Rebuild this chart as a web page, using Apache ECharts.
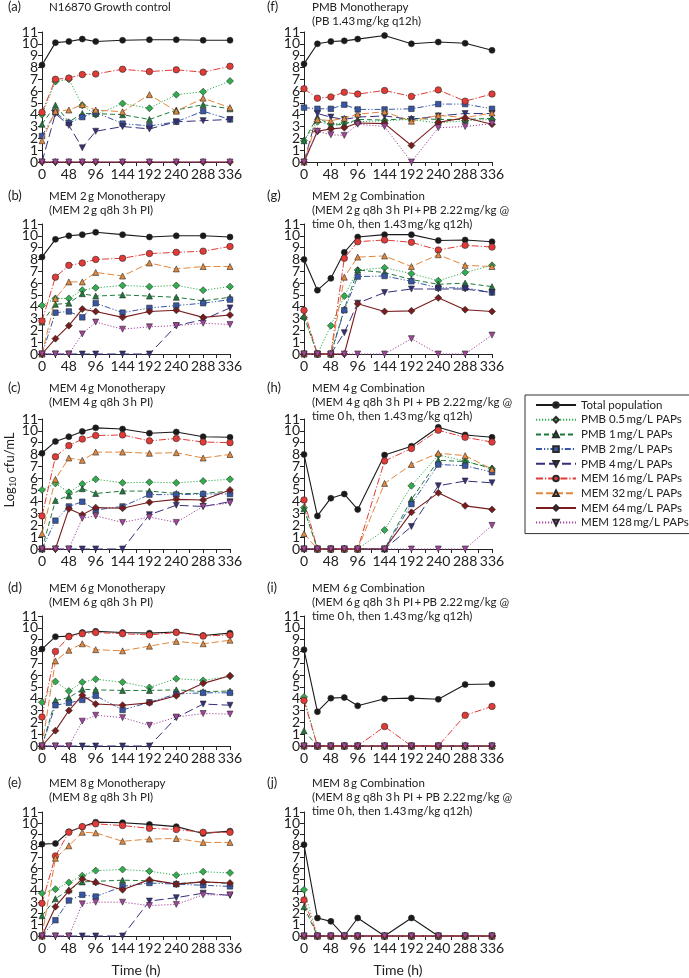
<!DOCTYPE html>
<html>
<head>
<meta charset="utf-8">
<script src="https://cdn.jsdelivr.net/npm/echarts@6/dist/echarts.min.js"></script>
<style>
html,body{margin:0;padding:0;background:#fff;}
#chart{width:689px;height:978px;}
</style>
</head>
<body>
<div id="chart"></div>
<script>
// ---- data ----
const times = [0, 24, 48, 72, 96, 144, 192, 240, 288, 336];
const seriesNames = ['Total population', 'PMB 0.5\u2009mg/L PAPs', 'PMB 1\u2009mg/L PAPs', 'PMB 2\u2009mg/L PAPs', 'PMB 4\u2009mg/L PAPs',
  'MEM 16\u2009mg/L PAPs', 'MEM 32\u2009mg/L PAPs', 'MEM 64\u2009mg/L PAPs', 'MEM 128\u2009mg/L PAPs'];
const Z = [0, 0, 0, 0, 0, 0, 0, 0, 0, 0];

// rows follow seriesNames order
const panelA = [
  [8.2, 10.1, 10.2, 10.4, 10.2, 10.3, 10.35, 10.35, 10.3, 10.3],
  [4.0, 6.8, 7.0, 4.8, 4.0, 4.95, 4.55, 5.7, 5.95, 6.85],
  [3.2, 4.8, 3.4, 4.1, 4.1, 4.0, 3.6, 4.4, 4.85, 4.5],
  [2.2, 4.2, 3.3, 3.8, 4.2, 3.25, 3.05, 3.4, 4.3, 3.6],
  [0, 4.1, 3.1, 1.2, 2.6, 3.0, 2.8, 3.4, 3.5, 3.6],
  [4.2, 7.0, 7.1, 7.4, 7.45, 7.85, 7.65, 7.8, 7.6, 8.1],
  [1.8, 4.3, 4.4, 4.85, 4.4, 4.25, 5.7, 4.3, 5.4, 4.6],
  Z, Z
];
const panelF = [
  [8.3, 10.0, 10.2, 10.25, 10.4, 10.7, 10.0, 10.15, 10.05, 9.45],
  [1.8, 3.4, 3.2, 3.3, 3.4, 3.5, 3.6, 3.3, 3.5, 3.6],
  [1.8, 3.8, 3.1, 3.2, 3.6, 3.55, 3.7, 3.6, 3.6, 3.7],
  [4.6, 4.5, 4.5, 4.85, 4.45, 4.45, 4.5, 4.9, 4.9, 4.5],
  [0, 4.1, 3.8, 3.6, 3.8, 3.9, 3.6, 3.9, 4.1, 4.1],
  [6.2, 5.4, 5.5, 5.9, 5.75, 6.05, 5.55, 6.1, 5.15, 5.75],
  [0, 3.6, 3.5, 3.7, 4.05, 4.25, 3.45, 3.95, 3.75, 4.15],
  [0, 2.6, 2.8, 2.9, 3.3, 3.25, 1.4, 3.35, 3.75, 3.2],
  [0, 2.6, 2.3, 2.25, 3.2, 3.0, 0, 2.9, 3.0, 3.25]
];
const panelB = [
  [8.2, 9.7, 10.0, 10.1, 10.3, 10.1, 9.9, 10.0, 10.0, 9.9],
  [4.1, 4.7, 4.7, 5.4, 5.6, 5.8, 5.7, 5.8, 5.4, 5.7],
  [2.7, 4.2, 4.3, 5.1, 4.9, 5.0, 4.9, 4.8, 4.5, 4.8],
  [0, 3.5, 3.6, 3.1, 4.3, 3.5, 3.9, 4.1, 4.3, 4.6],
  [0, 0, 0, 0, 0, 0, 0, 2.4, 2.9, 3.9],
  [2.8, 6.5, 7.5, 7.7, 8.0, 8.1, 8.5, 8.6, 8.7, 9.1],
  [0, 4.7, 6.1, 6.1, 6.9, 6.6, 7.7, 7.2, 7.4, 7.4],
  [0, 1.3, 2.4, 3.8, 3.6, 3.1, 3.6, 3.7, 3.1, 3.3],
  [0, 0, 0, 1.7, 2.7, 2.1, 2.3, 2.4, 2.6, 2.5]
];
const panelG = [
  [8.0, 5.4, 6.4, 8.6, 9.9, 10.1, 10.1, 9.6, 9.65, 9.5],
  [3.1, 0, 2.4, 4.9, 7.1, 7.3, 6.8, 6.2, 6.9, 7.5],
  [3.2, 0, 0, 3.8, 7.1, 6.9, 6.3, 5.9, 6.0, 5.7],
  [0, 0, 0, 3.7, 6.55, 6.6, 6.15, 5.6, 5.6, 5.2],
  [0, 0, 0, 1.8, 4.3, 5.2, 5.5, 5.5, 5.5, 5.2],
  [3.7, 0, 0, 8.1, 9.5, 9.65, 9.45, 8.8, 9.2, 9.05],
  [0, 0, 0, 6.5, 8.2, 8.3, 7.4, 8.4, 7.5, 7.4],
  [0, 0, 0, 0, 4.25, 3.6, 3.65, 4.75, 3.75, 3.6],
  [0, 0, 0, 0, 0, 0, 1.3, 0, 0, 1.6]
];
const panelC = [
  [8.1, 9.1, 9.5, 9.95, 10.25, 10.15, 9.8, 9.9, 9.5, 9.45],
  [5.0, 5.55, 4.8, 5.5, 5.9, 5.6, 5.65, 5.6, 5.75, 5.9],
  [0, 4.1, 4.5, 5.1, 4.7, 4.9, 4.9, 4.7, 4.7, 4.9],
  [0, 2.4, 3.6, 4.0, 3.3, 3.6, 4.6, 4.6, 4.65, 4.65],
  [0, 0, 0, 0, 0, 0, 2.9, 3.7, 3.6, 4.0],
  [2.8, 7.8, 8.75, 9.3, 9.6, 9.65, 9.15, 9.35, 9.05, 9.0],
  [1.3, 5.9, 7.7, 7.5, 8.2, 8.2, 8.1, 8.15, 7.7, 8.0],
  [0, 0, 3.4, 2.9, 3.5, 3.45, 3.95, 4.2, 4.15, 5.0],
  [0, 0, 0, 2.6, 2.8, 2.25, 2.7, 2.25, 3.6, 3.9]
];
const panelH = [
  [8.0, 2.8, 4.3, 4.65, 3.35, 7.95, 8.7, 10.3, 9.65, 9.45],
  [3.5, 0, 0, 0, 0, 1.6, 5.35, 7.95, 7.45, 6.8],
  [3.4, 0, 0, 0, 0, 0, 4.2, 7.5, 7.4, 6.85],
  [0, 0, 0, 0, 0, 0, 3.8, 7.15, 7.05, 6.5],
  [0, 0, 0, 0, 0, 0, 1.9, 5.35, 5.75, 5.6],
  [4.15, 0, 0, 0, 0, 7.45, 8.5, 10.05, 9.45, 9.05],
  [1.3, 0, 0, 0, 0, 5.55, 7.15, 8.1, 7.9, 6.75],
  [0, 0, 0, 0, 0, 0, 3.1, 4.75, 3.65, 3.35],
  [0, 0, 0, 0, 0, 0, 0, 0, 0, 2.0]
];
const panelD = [
  [8.2, 9.25, 9.3, 9.6, 9.7, 9.6, 9.55, 9.65, 9.35, 9.55],
  [3.7, 5.45, 4.65, 5.4, 5.65, 5.4, 4.95, 5.7, 5.55, 5.9],
  [0, 3.85, 4.1, 4.8, 4.75, 4.7, 4.7, 4.75, 4.6, 4.65],
  [0, 3.45, 3.65, 3.9, 4.25, 3.05, 3.7, 4.4, 4.5, 4.5],
  [0, 0, 0, 0, 0, 0, 0, 2.4, 3.55, 3.45],
  [2.45, 8.0, 9.25, 9.5, 9.6, 9.5, 9.4, 9.6, 9.3, 9.4],
  [0, 7.2, 8.1, 8.65, 8.15, 8.05, 8.45, 8.85, 8.65, 8.95],
  [0, 1.3, 3.0, 4.3, 3.55, 3.45, 3.65, 4.25, 5.3, 5.95],
  [0, 0, 0, 2.1, 2.6, 2.4, 1.75, 2.45, 2.75, 2.7]
];
const panelI = [
  [8.15, 2.9, 4.05, 4.1, 3.4, 4.0, 4.05, 3.95, 5.2, 5.25],
  [4.15, 0, 0, 0, 0, 0, 0, 0, 0, 0],
  [1.3, 0, 0, 0, 0, 0, 0, 0, 0, 0],
  Z, Z,
  [3.85, 0, 0, 0, 0, 1.65, 0, 0, 2.6, 3.35],
  Z, Z, Z
];
const panelE = [
  [8.15, 8.2, 9.25, 9.7, 10.1, 10.05, 9.9, 9.7, 9.1, 9.3],
  [3.8, 4.15, 4.75, 5.35, 5.8, 5.9, 5.75, 5.4, 5.7, 5.6],
  [1.8, 3.3, 4.1, 4.8, 4.85, 4.95, 4.9, 4.65, 4.8, 4.65],
  [0, 1.4, 3.15, 3.65, 3.5, 4.4, 4.7, 4.6, 4.5, 4.4],
  [0, 0, 0, 0, 0, 0, 3.1, 3.4, 3.8, 3.6],
  [2.9, 7.1, 9.2, 9.7, 9.95, 9.8, 9.55, 9.45, 9.2, 9.2],
  [0, 6.9, 8.0, 9.2, 9.15, 8.4, 8.6, 8.65, 8.3, 8.3],
  [0, 2.6, 4.0, 5.05, 4.75, 4.1, 5.0, 4.6, 4.8, 4.7],
  [0, 0, 0, 2.85, 3.0, 3.0, 2.7, 2.8, 3.65, 3.65]
];
const panelJ = [
  [8.1, 1.6, 1.3, 0, 1.6, 0, 1.6, 0, 0, 0],
  [4.1, 0, 0, 0, 0, 0, 0, 0, 0, 0],
  [2.6, 0, 0, 0, 0, 0, 0, 0, 0, 0],
  Z, Z,
  [3.2, 0, 0, 0, 0, 0, 0, 0, 0, 0],
  Z, Z, Z
];

const panelLetters = ['(a)', '(f)', '(b)', '(g)', '(c)', '(h)', '(d)', '(i)', '(e)', '(j)'];
const T = '\u2009';
const panelTitles = [
  'N16870 Growth control',
  'PMB Monotherapy\n(PB 1.43' + T + 'mg/kg q12h)',
  'MEM 2' + T + 'g Monotherapy\n(MEM 2' + T + 'g q8h 3' + T + 'h PI)',
  'MEM 2' + T + 'g Combination\n(MEM 2' + T + 'g q8h 3' + T + 'h PI' + T + '+' + T + 'PB 2.22' + T + 'mg/kg @\ntime 0' + T + 'h, then 1.43' + T + 'mg/kg q12h)',
  'MEM 4' + T + 'g Monotherapy\n(MEM 4' + T + 'g q8h 3' + T + 'h PI)',
  'MEM 4' + T + 'g Combination\n(MEM 4' + T + 'g q8h 3' + T + 'h PI + PB 2.22' + T + 'mg/kg @\ntime 0' + T + 'h, then 1.43' + T + 'mg/kg q12h)',
  'MEM 6' + T + 'g Monotherapy\n(MEM 6' + T + 'g q8h 3' + T + 'h PI)',
  'MEM 6' + T + 'g Combination\n(MEM 6' + T + 'g q8h 3' + T + 'h PI' + T + '+' + T + 'PB 2.22' + T + 'mg/kg @\ntime 0' + T + 'h, then 1.43' + T + 'mg/kg q12h)',
  'MEM 8' + T + 'g Monotherapy\n(MEM 8' + T + 'g q8h 3' + T + 'h PI)',
  'MEM 8' + T + 'g Combination\n(MEM 8' + T + 'g q8h 3' + T + 'h PI + PB 2.22' + T + 'mg/kg @\ntime 0' + T + 'h, then 1.43' + T + 'mg/kg q12h)'
];
const panels = [panelA, panelF, panelB, panelG, panelC, panelH, panelD, panelI, panelE, panelJ];

// ---- styles ----
const FONT = 'Lato';
const styles = [
  {color: '#1a1a1a', type: 'solid', symbol: 'circle', size: 6, rot: 0, width: 1.1},
  {color: '#2fae4e', type: [1.2, 1.8], symbol: 'diamond', size: 7, rot: 0, width: 1},
  {color: '#1d7a3a', type: [5, 3], symbol: 'triangle', size: 6, rot: 0, width: 1},
  {color: '#3656a8', type: [6, 2, 1.2, 2, 1.2, 2], symbol: 'rect', size: 5.5, rot: 0, width: 1},
  {color: '#35307c', type: [9, 4], symbol: 'triangle', size: 6, rot: 180, width: 1},
  {color: '#e23a36', type: [7, 2, 1.2, 2], symbol: 'circle', size: 6.5, rot: 0, width: 1},
  {color: '#e2873c', type: [7, 3], symbol: 'triangle', size: 6, rot: 0, width: 1},
  {color: '#7a1c1e', type: 'solid', symbol: 'diamond', size: 7, rot: 0, width: 1.1},
  {color: '#a4449e', type: [1.2, 1.8], symbol: 'triangle', size: 6, rot: 180, width: 1}
];

// ---- layout ----
const colLeft = [42, 304];
const rowTop = [32, 224, 419, 616, 812];
const titleTop = [0, 189, 381, 581, 776];
const letterLeft = [8, 267];
const titleLeft = [49, 312];
const PW = 188, PH = 130;

const labelStyle = {fontSize: 14, fontFamily: FONT, color: '#222'};
const grids = [], xAxes = [], yAxes = [], series = [], titles = [];
panels.forEach((p, i) => {
  const row = Math.floor(i / 2), col = i % 2;
  grids.push({left: colLeft[col], top: rowTop[row], width: PW, height: PH, containLabel: false});
  const bottom = row === 4;
  xAxes.push({
    gridIndex: i, type: 'value', min: 0, max: 336, interval: 48,
    axisLine: {show: true, onZero: false, lineStyle: {color: '#222', width: 1}},
    axisTick: {show: true, length: 4, lineStyle: {color: '#222'}},
    minorTick: {show: true, splitNumber: 2, length: 4, lineStyle: {color: '#222'}},
    splitLine: {show: false}, minorSplitLine: {show: false},
    axisLabel: Object.assign({margin: 5, showMinLabel: true, showMaxLabel: true, hideOverlap: false}, labelStyle),
    name: bottom ? 'Time (h)' : '', nameLocation: 'middle', nameGap: 27,
    nameTextStyle: {fontSize: 14, fontFamily: FONT, color: '#222'}
  });
  // main y axis: labels 1..10
  yAxes.push({
    gridIndex: i, type: 'value', position: 'left', min: 0, max: 11, interval: 1,
    axisLine: {show: true, onZero: false, lineStyle: {color: '#222', width: 1}},
    axisTick: {show: true, length: 4, lineStyle: {color: '#222'}},
    splitLine: {show: false},
    axisLabel: Object.assign({margin: 4, showMinLabel: false, showMaxLabel: false, hideOverlap: false}, labelStyle)
  });
  // companion y axis: end labels 0 and 11
  yAxes.push({
    gridIndex: i, type: 'value', position: 'left', min: 0, max: 11, interval: 11,
    axisLine: {show: false},
    axisTick: {show: true, length: 4, lineStyle: {color: '#222'}},
    splitLine: {show: false},
    axisLabel: Object.assign({margin: 4, showMinLabel: true, showMaxLabel: true, hideOverlap: false}, labelStyle)
  });
  titles.push({text: panelLetters[i], left: letterLeft[col], top: titleTop[row], padding: 0,
    textStyle: {fontSize: 13, fontFamily: FONT, fontWeight: 'normal', color: '#222', lineHeight: 14}});
  titles.push({text: panelTitles[i], left: titleLeft[col], top: titleTop[row], padding: 0,
    textStyle: {fontSize: 11.5, fontFamily: FONT, fontWeight: 'normal', color: '#222', lineHeight: 14}});
  p.forEach((vals, s) => {
    const st = styles[s];
    series.push({
      name: seriesNames[s], type: 'line', xAxisIndex: i, yAxisIndex: 2 * i,
      data: times.map((t, k) => [t, vals[k]]),
      symbol: st.symbol, symbolSize: st.size, symbolRotate: st.rot, clip: false,
      lineStyle: {color: st.color, width: st.width, type: st.type},
      itemStyle: {color: st.color, borderColor: '#2a2a2a', borderWidth: 0.6},
      emphasis: {disabled: true}, z: 2 + s
    });
  });
});

const chart = echarts.init(document.getElementById('chart'), null, {renderer: 'canvas'});
chart.setOption({
  animation: false,
  backgroundColor: '#fff',
  title: titles,
  grid: grids, xAxis: xAxes, yAxis: yAxes, series: series,
  legend: {
    data: seriesNames, orient: 'vertical', left: 525, top: 395,
    padding: [4, 6, 5, 10], itemWidth: 40, itemHeight: 7, itemGap: 2.7,
    borderColor: '#333', borderWidth: 1, selectedMode: false,
    textStyle: {fontSize: 11.5, fontFamily: FONT, color: '#222'}
  },
  graphic: [{
    type: 'text', x: 10, y: 470, rotation: Math.PI / 2,
    style: {
      text: '{a|Log}{s|10}{a| cfu/mL}', align: 'center', verticalAlign: 'middle',
      rich: {
        a: {fontSize: 13, fontFamily: FONT, fill: '#222', color: '#222'},
        s: {fontSize: 9, fontFamily: FONT, fill: '#222', color: '#222', padding: [6, 0, 0, 0]}
      }
    }
  }]
});
</script>
</body>
</html>
